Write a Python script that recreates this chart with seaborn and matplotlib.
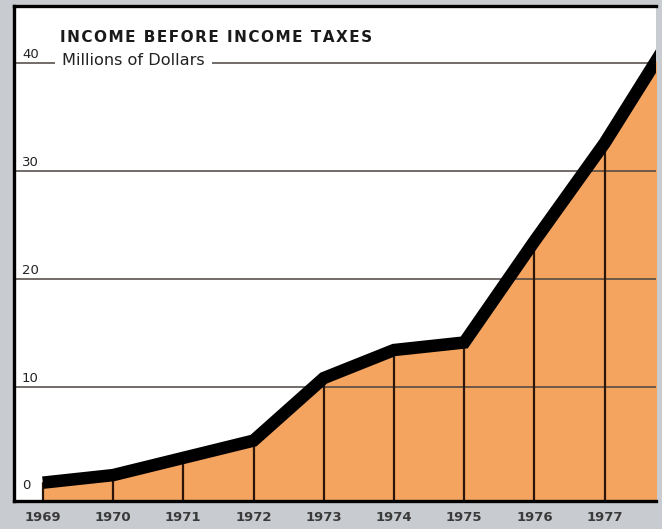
import matplotlib
matplotlib.use("Agg")
import matplotlib.pyplot as plt
import matplotlib.transforms as mtransforms
import seaborn as sns
import pandas as pd

# ---- data ----
years = [1969, 1970, 1971, 1972, 1973, 1974, 1975, 1976, 1977, 1978]
income = [1.1, 1.8, 3.4, 5.0, 10.8, 13.4, 14.1, 23.5, 32.6, 43.0]
tick_years = [1969, 1970, 1971, 1972, 1973, 1974, 1975, 1976, 1977]
y_ticks = [0, 10, 20, 30, 40]
title = "INCOME BEFORE INCOME TAXES"
subtitle = "Millions of Dollars"

df = pd.DataFrame({"year": years, "income": income})

sns.set_theme(style="white")
plt.rcParams["font.family"] = ["DejaVu Sans"]

BG = "#c8ccd1"
ORANGE = "#f5a45f"

fig = plt.figure(figsize=(6.62, 5.29), dpi=100, facecolor=BG)
W, H = 662, 529
left, right, top, bottom = 14, 656, 6, 501
ax = fig.add_axes([left / W, (H - bottom) / H, (right - left) / W, (bottom - top) / H])
ax.set_facecolor("white")

ymin, ymax = -0.6, 45.3
xmin, xmax = 1968.59, 1977.73
ax.set_xlim(xmin, xmax)
ax.set_ylim(ymin, ymax)

# orange area
ax.fill_between(df["year"], ymin, df["income"], color=ORANGE, lw=0, zorder=1)

# horizontal gridlines
for v in y_ticks[1:]:
    ax.axhline(v, color="#4a4440", lw=1.1, zorder=2)

# vertical year lines inside the area
for yr, val in zip(years, income):
    if yr <= 1977:
        ax.plot([yr, yr], [ymin, val], color="#2b1508", lw=1.6, zorder=2)

# thick black line
sns.lineplot(data=df, x="year", y="income", color="black", lw=9.0, ax=ax,
             zorder=4, solid_joinstyle="miter", solid_capstyle="butt")

# y labels inside the frame
trans = mtransforms.blended_transform_factory(ax.transAxes, ax.transData)
for v in y_ticks:
    ax.text(0.0125, v + 0.2, str(v), transform=trans, ha="left", va="bottom",
            fontsize=9.5, color="#222222", zorder=5)

# title & subtitle (title letter-spaced)
spaced_title = "\u200a".join(title)
ax.text(0.0717, 42.35, spaced_title, transform=trans, ha="left", va="center",
        fontsize=11, fontweight="bold", color="#1a1a1a", zorder=6)
ax.text(0.0748, 40.25, subtitle, transform=trans, ha="left", va="center",
        fontsize=11.6, color="#222222", zorder=6,
        bbox=dict(facecolor="white", edgecolor="none", pad=5.0))

# x ticks
ax.set_xticks(tick_years)
ax.set_xticklabels([str(y) for y in tick_years], fontsize=9.5,
                   fontweight="bold", color="#3a3a3a")
ax.tick_params(axis="x", length=0, pad=7)
ax.set_yticks([])
ax.set_xlabel("")
ax.set_ylabel("")

# frame
for s in ["left", "top", "bottom"]:
    ax.spines[s].set_color("black")
    ax.spines[s].set_linewidth(2.4)
    ax.spines[s].set_zorder(7)
ax.spines["right"].set_visible(False)

fig.savefig("out.png", dpi=100, facecolor=BG)
